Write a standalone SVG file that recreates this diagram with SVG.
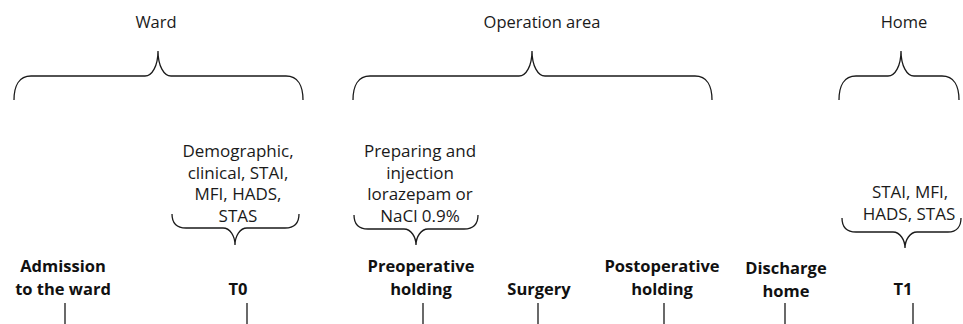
<svg xmlns="http://www.w3.org/2000/svg" width="963" height="324" viewBox="0 0 963 324">
<style>
.hd{font-family:"Open Sans","Noto Sans",sans-serif;font-size:16.5px;fill:#1a1a1a;text-anchor:middle}
.dt{font-family:"Open Sans","Noto Sans",sans-serif;font-size:17px;fill:#1a1a1a;text-anchor:middle}
.lb{font-family:"Open Sans","Noto Sans",sans-serif;font-size:16.5px;font-weight:bold;fill:#111;text-anchor:middle}
.br{fill:none;stroke:#1a1a1a;stroke-width:1.3}
.tk{stroke:#1a1a1a;stroke-width:1.3}
</style>
<rect width="963" height="324" fill="#fff"/>
<g id="ward">
<text class="hd" x="156" y="28">Ward</text>
<path class="br" d="M14,100 C14,86 19,76 31,76 L145,76 C152,76 158,66 158,51 C158,66 164,76 171,76 L286,76 C298,76 303,86 303,100"/>
</g>
<g id="operation-area">
<text class="hd" x="542" y="28">Operation area</text>
<path class="br" d="M353,100 C353,86 358,76 370,76 L519,76 C526,76 532,66 532,51 C532,66 538,76 545,76 L695,76 C707,76 712,86 712,100"/>
</g>
<g id="home">
<text class="hd" x="904" y="28">Home</text>
<path class="br" d="M839,100 C839,86 844,76 856,76 L888,76 C895,76 901,66 901,51 C901,66 907,76 914,76 L942,76 C954,76 959,86 959,100"/>
</g>
<g id="t0-data">
<text class="dt" x="238"><tspan x="238" y="157">Demographic,</tspan><tspan x="238" y="179">clinical, STAI,</tspan><tspan x="238" y="200">MFI, HADS,</tspan><tspan x="238" y="222">STAS</tspan></text>
<path class="br" d="M172,214 C172,222 176,228 186,228 L223,228 C230,228 235,236 235,245 C235,236 240,228 247,228 L285,228 C295,228 299,222 299,214"/>
</g>
<g id="preop-data">
<text class="dt" x="420"><tspan x="420" y="157">Preparing and</tspan><tspan x="420" y="179">injection</tspan><tspan x="420" y="200">lorazepam or</tspan><tspan x="420" y="222">NaCl 0.9%</tspan></text>
<path class="br" d="M354,215 C354,223 358,229 368,229 L404,229 C411,229 416,237 416,245 C416,237 421,229 428,229 L464,229 C474,229 478,223 478,215"/>
</g>
<g id="t1-data">
<text class="dt" x="908"><tspan x="910" y="198">STAI, MFI,</tspan><tspan x="909" y="220">HADS, STAS</tspan></text>
<path class="br" d="M842,218 C842,226 846,232 856,232 L893,232 C900,232 905,240 905,248 C905,240 910,232 917,232 L948,232 C957,232 961,226 961,218"/>
</g>
<g id="admission">
<text class="lb"><tspan x="63" y="272">Admission</tspan><tspan x="63" y="295">to the ward</tspan></text>
</g>
<g id="t0">
<text class="lb" x="238" y="295">T0</text>
</g>
<g id="preoperative-holding">
<text class="lb"><tspan x="421" y="272">Preoperative</tspan><tspan x="421" y="295">holding</tspan></text>
</g>
<g id="surgery">
<text class="lb" x="539" y="295">Surgery</text>
</g>
<g id="postoperative-holding">
<text class="lb"><tspan x="662" y="272">Postoperative</tspan><tspan x="662" y="295">holding</tspan></text>
</g>
<g id="discharge-home">
<text class="lb"><tspan x="786" y="274">Discharge</tspan><tspan x="786" y="297">home</tspan></text>
</g>
<g id="t1">
<text class="lb" x="903" y="295">T1</text>
</g>
<g id="connectors">
<line class="tk" x1="65" y1="303" x2="65" y2="324"/>
<line class="tk" x1="247" y1="303" x2="247" y2="324"/>
<line class="tk" x1="423" y1="303" x2="423" y2="324"/>
<line class="tk" x1="538" y1="303" x2="538" y2="324"/>
<line class="tk" x1="664" y1="303" x2="664" y2="324"/>
<line class="tk" x1="785" y1="303" x2="785" y2="324"/>
<line class="tk" x1="913" y1="303" x2="913" y2="324"/>
</g>
</svg>
